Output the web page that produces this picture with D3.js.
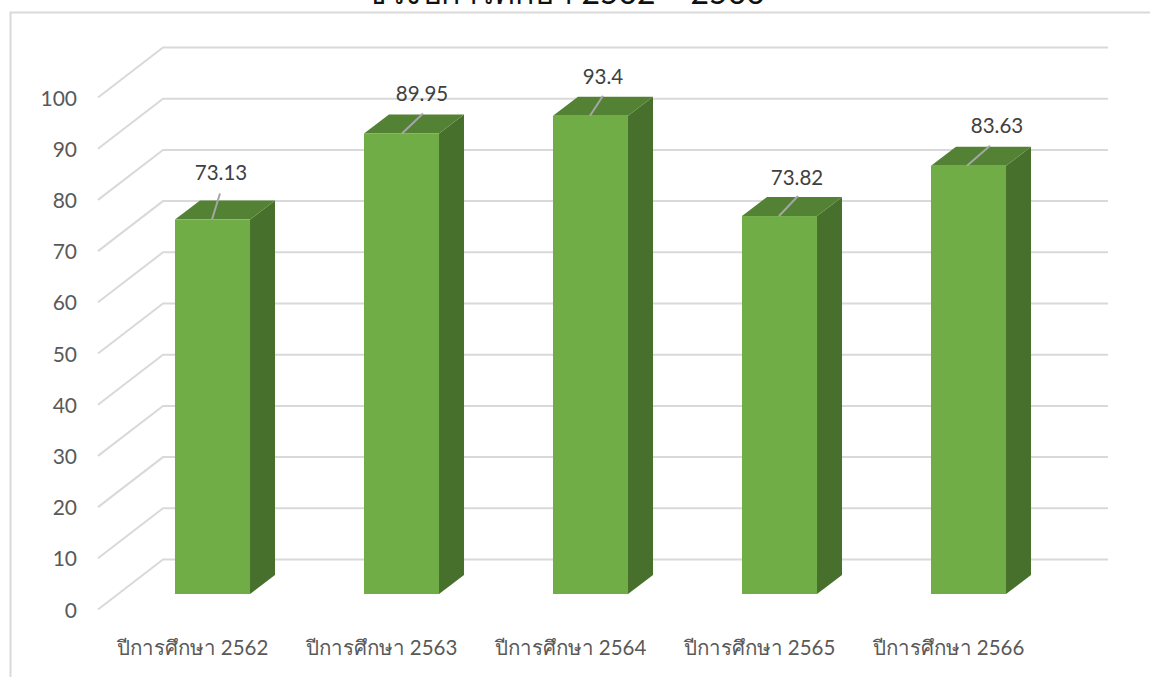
<!DOCTYPE html>
<html><head><meta charset="utf-8">
<script src="https://cdn.jsdelivr.net/npm/d3@7/dist/d3.min.js"></script>
<style>html,body{margin:0;padding:0;background:#fff;overflow:hidden}svg{display:block}text{font-family:Lato,"Noto Sans",sans-serif}</style>
</head><body><svg id="c" width="1150" height="677"></svg>
<script>
const titleText = "ช่วงปีการศึกษา 2562 – 2566";
const categories = ["ปีการศึกษา 2562","ปีการศึกษา 2563","ปีการศึกษา 2564","ปีการศึกษา 2565","ปีการศึกษา 2566"];
const values = [73.13,89.95,93.4,73.82,83.63];
const yTicks = [0,10,20,30,40,50,60,70,80,90,100];

const svg = d3.select("#c");
const depthX = 65, depthY = 50;           // wall depth
const barDX = 20, barDY = 15.5;           // bar plane inside the depth
const barDepthX = 25, barDepthY = 19;     // bar thickness
const y = d3.scaleLinear().domain([0,100]).range([609.5,97.5]);
const x = d3.scaleBand().domain(categories).range([98,1043]).paddingInner(0.603).paddingOuter(0.3015);

// frame
svg.append("path").attr("d","M10.5,677V12.5H1150").attr("fill","none").attr("stroke","#d9d9d9").attr("stroke-width",2);
// title
svg.append("text").attr("x",565).attr("y",4).attr("text-anchor","middle").attr("font-size",32).attr("fill","#111").text(titleText);

// walls
const grid = svg.append("g").attr("fill","none").attr("stroke","#d9d9d9").attr("stroke-width",2);
grid.selectAll("path").data(yTicks).join("path")
  .attr("d",t=>`M${x.range()[0]},${y(t)}L${x.range()[0]+depthX},${y(t)-depthY}H${x.range()[1]+depthX}`);

// y labels
svg.append("g").selectAll("text").data(yTicks).join("text")
  .attr("x",77).attr("y",t=>y(t)+8).attr("text-anchor","end").attr("font-size",21).attr("fill","#595959").text(t=>t);

// bars
const bars = svg.append("g").selectAll("g").data(categories).join("g");
const bx = c=>x(c)+barDX, bw = x.bandwidth();
const barTop = (c,i)=>y(values[i])-barDY, base = y(0)-barDY;
bars.append("path").attr("fill","#48702d").attr("d",(c,i)=>{const r=bx(c)+bw;return `M${r},${barTop(c,i)}l${barDepthX},${-barDepthY}V${base-barDepthY}l${-barDepthX},${barDepthY}Z`;});
bars.append("path").attr("fill","#548235").attr("d",(c,i)=>`M${bx(c)},${barTop(c,i)}l${barDepthX},${-barDepthY}h${bw}l${-barDepthX},${barDepthY}Z`);
bars.append("rect").attr("fill","#70ad47").attr("x",bx).attr("y",barTop).attr("width",bw).attr("height",(c,i)=>base-barTop(c,i));

// leader lines and data labels
const leaderShift = [[37,8,26],[38,21,20],[37,13,20],[37,19,20],[36,23,20]];
bars.append("line").attr("stroke","#a6a6a6").attr("stroke-width",2)
  .attr("x1",(c,i)=>bx(c)+leaderShift[i][0]).attr("y1",barTop)
  .attr("x2",(c,i)=>bx(c)+leaderShift[i][0]+leaderShift[i][1]).attr("y2",(c,i)=>barTop(c,i)-leaderShift[i][2]);
const labelShift = [[46,40],[58,32],[50,32],[55,31],[66,33]];
bars.append("text").attr("x",(c,i)=>bx(c)+labelShift[i][0]).attr("y",(c,i)=>barTop(c,i)-labelShift[i][1]).attr("text-anchor","middle")
  .attr("font-size",20.5).attr("fill","#404040").text((c,i)=>values[i]);

// category labels
svg.append("g").selectAll("text").data(categories).join("text")
  .attr("x",c=>x(c)+x.bandwidth()/2).attr("y",655).attr("text-anchor","middle").attr("font-size",20.5).attr("fill","#595959").text(c=>c);
</script></body></html>
